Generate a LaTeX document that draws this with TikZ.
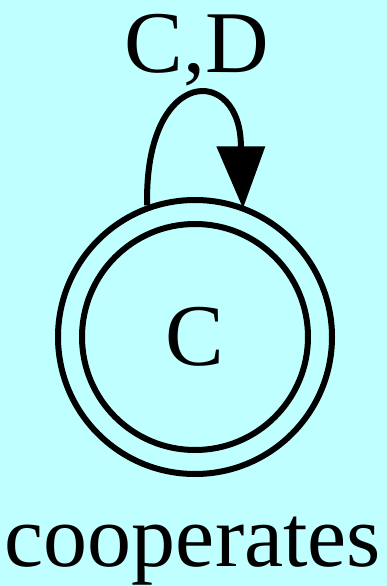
\documentclass[tikz,border=0pt]{standalone}
\usepackage{fontspec}
\setmainfont{Liberation Serif}
\usetikzlibrary{calc}
\definecolor{bgcyan}{RGB}{192,255,255}
\tikzset{
  statecircle/.style={circle, draw=black, line width=6pt, inner sep=0pt},
  lbl/.style={font=\fontsize{88}{90}\selectfont, anchor=base, inner sep=0pt},
  edge/.style={line width=6pt, draw=black},
  headtip/.style={fill=black, draw=black, line width=2pt, line join=miter}
}
\begin{document}
\begin{tikzpicture}[x=1pt,y=-1pt]
  \fill[bgcyan] (0,0) rectangle (387,586);
  \useasboundingbox (0,0) rectangle (387,586);
  \node[statecircle, minimum size=274pt, font=\fontsize{88}{90}\selectfont] (s) at (195,337) {C};
  \node[statecircle, minimum size=226pt] (si) at (s.center) {};
  \node[lbl] (top) at (197,72) {C,D};
  \node[lbl] (name) at (193,566) {cooperates};
  \coordinate (tip) at (s.70);
  \coordinate (base) at ($(tip)+(-2,-58)$);
  \coordinate (start) at (s.110);
  \draw[edge] (start) .. controls +(-3,-141) and +(1,-83) .. (base);
  \filldraw[headtip] ($(base)+(-23,0)$) -- ($(base)+(23,0)$) -- (tip) -- cycle;
\end{tikzpicture}
\end{document}
